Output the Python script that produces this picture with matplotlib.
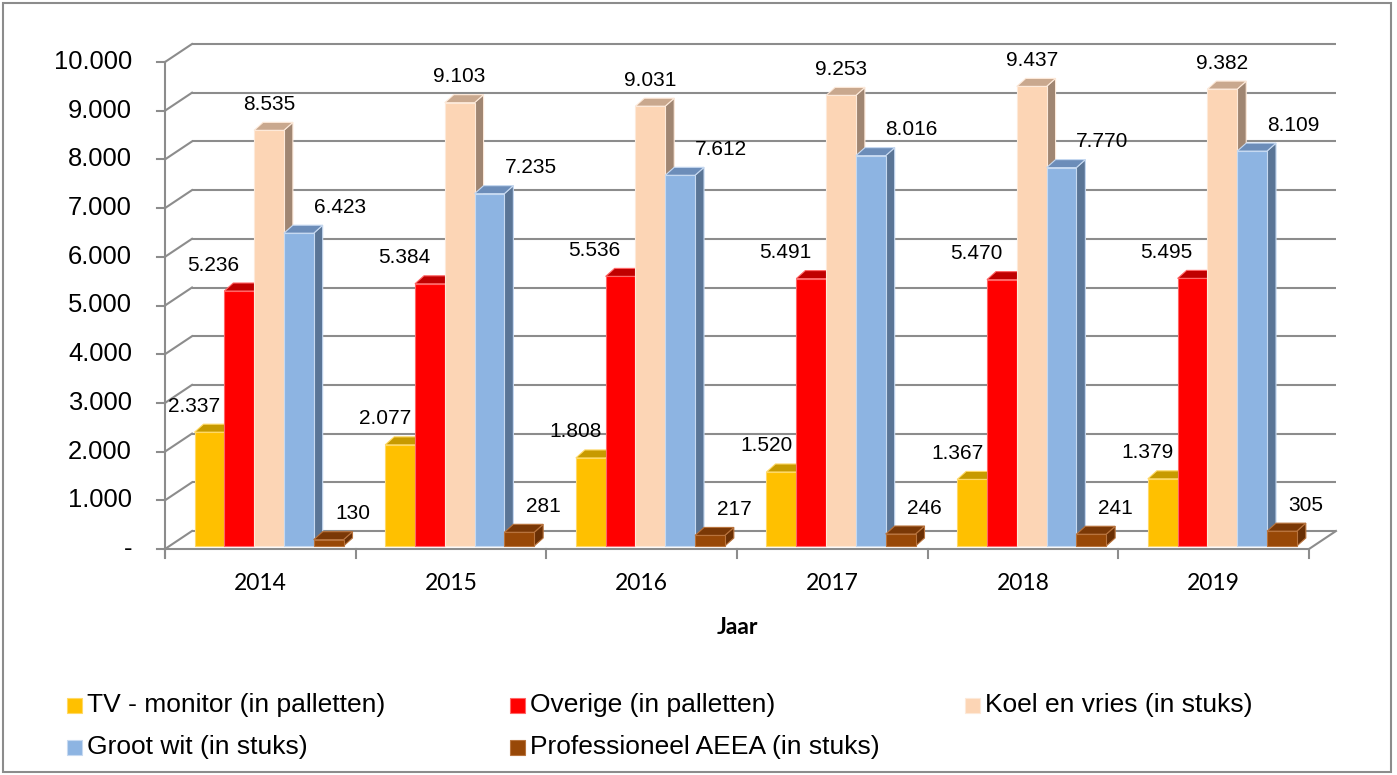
import matplotlib
matplotlib.use("Agg")
import matplotlib.pyplot as plt
from matplotlib.patches import Polygon, Rectangle

# data
jaren = ["2014", "2015", "2016", "2017", "2018", "2019"]
series = ["TV - monitor (in palletten)", "Overige (in palletten)", "Koel en vries (in stuks)",
          "Groot wit (in stuks)", "Professioneel AEEA (in stuks)"]
tv_monitor = [2337, 2077, 1808, 1520, 1367, 1379]
overige = [5236, 5384, 5536, 5491, 5470, 5495]
koel_vries = [8535, 9103, 9031, 9253, 9437, 9382]
groot_wit = [6423, 7235, 7612, 8016, 7770, 8109]
prof_aeea = [130, 281, 217, 246, 241, 305]
yticks = list(range(0, 10001, 1000))

values = [tv_monitor, overige, koel_vries, groot_wit, prof_aeea]

# colours: front, top, side, edge
front_c = ["#FFC000", "#FF0000", "#FCD5B5", "#8DB4E2", "#984807"]
top_c = ["#C79A00", "#C00000", "#C9A88E", "#6C8DB9", "#7A3806"]
side_c = ["#B08800", "#A00000", "#A08672", "#5A7596", "#6A3005"]
edge_c = ["#FFD966", "#FF6666", "#FDE9D9", "#C6D9F1", "#B8733D"]
label_dx = [-15, -26, 0, 41, 24]   # label shift in px per series

W, H = 1397, 775
fig = plt.figure(figsize=(W / 100, H / 100), dpi=100)

# axes: front floor from x=165..1309 px, y=549 (0) .. 62 (10000)
ax = fig.add_axes([165 / W, (H - 549) / H, (1309 - 165) / W, (549 - 62) / H])
ax.set_xlim(0, 6)
ax.set_ylim(0, 10000)
ax.axis("off")

PX_X = (1309 - 165) / 6
PX_Y = (549 - 62) / 10000


def dx(p):
    return p / PX_X


def dy(p):
    return p / PX_Y


grid_c = "#8C8C8C"
glw = 1.5
wall_dx, wall_dy = dx(27), dy(18)
n = len(jaren)

# wall gridlines + left diagonals + ticks
for v in yticks:
    ax.plot([wall_dx, n + wall_dx], [v + wall_dy, v + wall_dy], color=grid_c, lw=glw,
            clip_on=False, zorder=1, solid_capstyle="butt")
    ax.plot([0, wall_dx], [v, v + wall_dy], color=grid_c, lw=glw, clip_on=False, zorder=1)
    ax.plot([-dx(8), 0], [v, v], color=grid_c, lw=glw, clip_on=False, zorder=1)
    lab = "-" if v == 0 else f"{v:,}".replace(",", ".")
    ax.text(-dx(33), v, lab, ha="right", va="center", fontsize=18.4,
            family="Liberation Sans", color="black")

ax.plot([0, 0], [-dy(8), 10000], color=grid_c, lw=glw, clip_on=False, zorder=1)
# floor
ax.plot([0, n], [0, 0], color=grid_c, lw=glw, clip_on=False, zorder=1)
ax.plot([n, n + wall_dx], [0, wall_dy], color=grid_c, lw=glw, clip_on=False, zorder=1)
for i in range(n + 1):
    ax.plot([i, i], [0, -dy(9)], color=grid_c, lw=glw, clip_on=False, zorder=1)

for i, jr in enumerate(jaren):
    ax.text(i + 0.5, -dy(35), jr, ha="center", va="center", fontsize=16.5,
            family="Lato", color="black")
ax.text(3.0, -dy(78), "Jaar", ha="center", va="center", fontsize=16.5,
        family="Lato", fontweight="bold", color="black")

# 3d bars
bw = dx(29.8)
bdx, bdy = dx(9), dy(8)
base = dy(3)
z = 5
for i in range(n):
    for j, vals in enumerate(values):
        v = vals[i]
        x0 = i + dx(29.5) + j * bw
        x1 = x0 + bw
        y1 = base + v
        side = [(x1, base), (x1 + bdx, base + bdy), (x1 + bdx, y1 + bdy), (x1, y1)]
        top = [(x0, y1), (x1, y1), (x1 + bdx, y1 + bdy), (x0 + bdx, y1 + bdy)]
        front = [(x0, base), (x1, base), (x1, y1), (x0, y1)]
        ax.add_patch(Polygon(side, closed=True, fc=side_c[j], ec=edge_c[j], lw=0.8,
                             clip_on=False, zorder=z))
        ax.add_patch(Polygon(top, closed=True, fc=top_c[j], ec=edge_c[j], lw=0.8,
                             clip_on=False, zorder=z))
        ax.add_patch(Polygon(front, closed=True, fc=front_c[j], ec=edge_c[j], lw=0.8,
                             clip_on=False, zorder=z + 1))
        z += 2
        ax.text((x0 + x1) / 2 + dx(label_dx[j]), y1 + dy(26), f"{v:,}".replace(",", "."),
                ha="center", va="center", fontsize=15, family="Liberation Sans",
                color="black", zorder=200)

# legend (manual, 3 columns)
leg_x = [67, 510, 965]
leg_y = [705, 747]
for k, name in enumerate(series):
    r, c = divmod(k, 3)
    x, y = leg_x[c], leg_y[r]
    fig.patches.append(Rectangle((x / W, (H - y - 7.5) / H), 15 / W, 15 / H,
                                 transform=fig.transFigure, fc=front_c[k],
                                 ec=edge_c[k], lw=0.8))
    fig.text((x + 20) / W, (H - y) / H, name, ha="left", va="center", fontsize=19,
             family="Liberation Sans", color="black")

# outer border
fig.patches.append(Rectangle((3 / W, 3 / H), (1391 - 3) / W, (772 - 3) / H,
                             transform=fig.transFigure, fill=False, ec="#8C8C8C", lw=1.5))

fig.savefig("out.png", dpi=100)
